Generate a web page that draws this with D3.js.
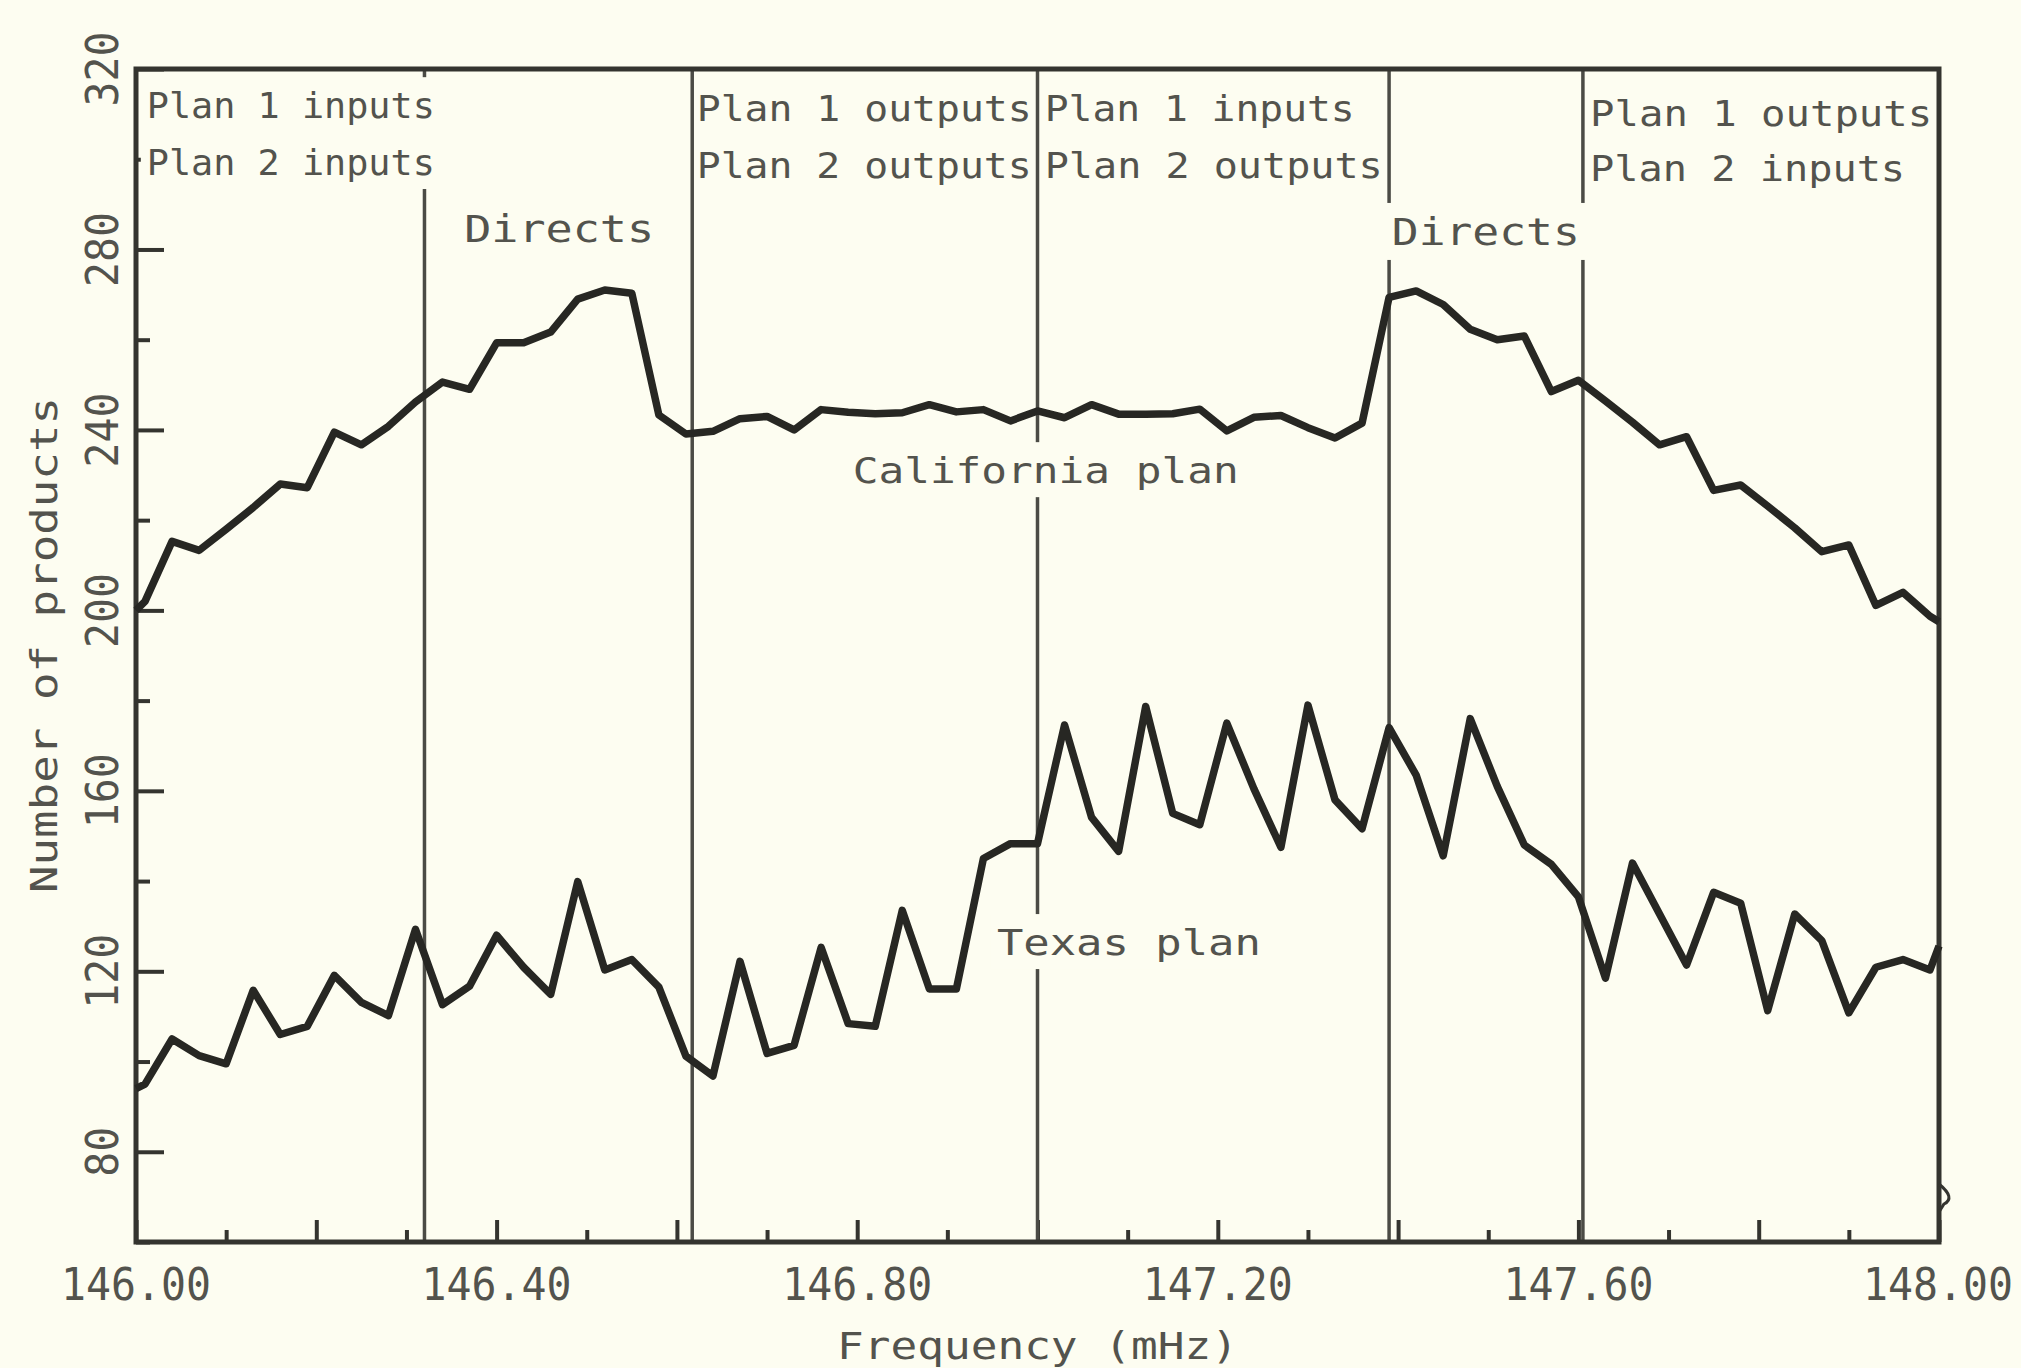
<!DOCTYPE html>
<html>
<head>
<meta charset="utf-8">
<script src="https://cdn.jsdelivr.net/npm/d3@7"></script>
<style>
  html, body { margin: 0; padding: 0; background: #fdfdf1; }
  svg { display: block; }
</style>
</head>
<body>
<svg id="chart" width="2021" height="1368"></svg>
<script>
// 2-m band channels (MHz), 30 kHz apart, with the band edges at both ends
const frequencies = [
  146.00,
  146.01, 146.04, 146.07, 146.10, 146.13, 146.16, 146.19, 146.22, 146.25, 146.28,
  146.31, 146.34, 146.37, 146.40, 146.43, 146.46, 146.49, 146.52, 146.55, 146.58,
  146.61, 146.64, 146.67, 146.70, 146.73, 146.76, 146.79, 146.82, 146.85, 146.88,
  146.91, 146.94, 146.97, 147.00, 147.03, 147.06, 147.09, 147.12, 147.15, 147.18,
  147.21, 147.24, 147.27, 147.30, 147.33, 147.36, 147.39, 147.42, 147.45, 147.48,
  147.51, 147.54, 147.57, 147.60, 147.63, 147.66, 147.69, 147.72, 147.75, 147.78,
  147.81, 147.84, 147.87, 147.90, 147.93, 147.96, 147.99,
  148.00
];

// Number of intermodulation products falling on each channel
const californiaPlan = [
  200,
  202, 215.3, 213.3, 218, 222.8, 228, 227.2, 239.5, 236.7, 240.8,
  246.2, 250.6, 249, 259.3, 259.3, 261.7, 269, 271, 270.3, 243.3,
  239.1, 239.7, 242.5, 243, 240, 244.5, 243.9, 243.6, 243.8, 245.6,
  244, 244.5, 242, 244.2, 242.7, 245.6, 243.5, 243.5, 243.6, 244.6,
  239.8, 242.8, 243.2, 240.5, 238.2, 241.5, 269.4, 270.8, 267.8, 262.3,
  260, 260.8, 248.5, 251, 246.4, 241.7, 236.7, 238.5, 226.6, 227.8,
  223.1, 218.3, 213, 214.5, 201.1, 204, 198.7,
  197.5
];

const texasPlan = [
  94,
  95, 105, 101.3, 99.5, 115.8, 106, 107.8, 119.1, 113.1, 110.2,
  129.3, 112.6, 116.7, 128, 120.9, 114.9, 139.9, 120.3, 122.6, 116.5,
  101.2, 96.8, 122.2, 101.8, 103.6, 125.3, 108.4, 107.8, 133.5, 116.1,
  116.1, 145, 148.3, 148.3, 174.6, 154.1, 146.6, 178.7, 155, 152.5,
  175, 160.5, 147.5, 179, 158, 151.6, 174, 163.5, 145.6, 176,
  161, 148, 143.7, 136.5, 118.5, 144, 132.7, 121.4, 137.5, 135.1,
  111.3, 132.7, 126.8, 110.8, 120.9, 122.6, 120.3,
  125.6
];

// Boundaries between the sub-band allocations (MHz)
const bandBoundaries = [146.32, 146.617, 147.00, 147.39, 147.605];

// Axis ticks
const xTickValues = [146.00, 146.40, 146.80, 147.20, 147.60, 148.00];
const xTickLabels = ["146.00", "146.40", "146.80", "147.20", "147.60", "148.00"];
const yTickValues = [80, 120, 160, 200, 240, 280, 320];
const yTickLabels = ["80", "120", "160", "200", "240", "280", "320"];

// Sub-band captions and curve names
const regionText = [
  ["Plan 1 inputs", "Plan 2 inputs"],
  ["Directs"],
  ["Plan 1 outputs", "Plan 2 outputs"],
  ["Plan 1 inputs", "Plan 2 outputs"],
  ["Directs"],
  ["Plan 1 outputs", "Plan 2 inputs"]
];
const seriesNames = ["California plan", "Texas plan"];
const xTitle = "Frequency (mHz)";
const yTitle = "Number of products";

// ---------------------------------------------------------------------------
const W = 2021, H = 1368;
const plot = { left: 136, right: 1939, top: 69, bottom: 1242 };
const BG = "#fdfdf1";
const INK = "#272723";
const FRAME = "#34342f";
const RULE = "#4b4b45";
const TEXT = "#53534d";
const MONO = "'DejaVu Sans Mono', 'Liberation Mono', monospace";

const svg = d3.select("#chart");
svg.append("rect").attr("width", W).attr("height", H).attr("fill", BG);

const x = d3.scaleLinear().domain([146, 148]).range([plot.left, plot.right]);
const y = d3.scaleLinear().domain([60, 320]).range([plot.bottom, plot.top]);

// --- inward ticks -----------------------------------------------------------
const ticks = svg.append("g");
const xMinor = d3.range(0, 21).map(i => 146 + i * 0.1);
const yMinor = d3.range(0, 14).map(i => 60 + i * 20);

function tickAxis(axis, values, size, tx, ty) {
  const g = ticks.append("g")
    .attr("transform", `translate(${tx},${ty})`)
    .call(axis.tickValues(values).tickSize(size).tickFormat(""));
  g.select(".domain").remove();
  g.selectAll("line").attr("stroke", FRAME).attr("stroke-width", 4);
  return g;
}
tickAxis(d3.axisBottom(x), xMinor.filter((d, i) => i % 2 === 1), -12, 0, plot.bottom);
tickAxis(d3.axisBottom(x), xMinor.filter((d, i) => i % 2 === 0), -22, 0, plot.bottom);
tickAxis(d3.axisLeft(y), yMinor.filter(d => d % 40 !== 0), -14, plot.left, 0);
tickAxis(d3.axisLeft(y), yMinor.filter(d => d % 40 === 0), -28, plot.left, 0);

// --- sub-band boundary rules -------------------------------------------------
svg.append("g").selectAll("line")
  .data(bandBoundaries)
  .join("line")
  .attr("x1", d => x(d)).attr("x2", d => x(d))
  .attr("y1", plot.top).attr("y2", plot.bottom)
  .attr("stroke", RULE).attr("stroke-width", 3.5);

// --- captions (some sit on a paper-coloured patch that interrupts the rules) --
const captionLayout = [
  { f: 146.012, v: 309.1, gap: 12.6, size: 36, len: [288, 288], mask: true },
  { f: 146.364, v: 281.6, gap: 0,    size: 37, len: [190],      mask: false },
  { f: 146.622, v: 308.4, gap: 12.6, size: 36, len: [335, 335], mask: false },
  { f: 147.008, v: 308.4, gap: 12.6, size: 36, len: [310, 338], mask: false },
  { f: 147.393, v: 281.0, gap: 0,    size: 37, len: [188],      mask: true },
  { f: 147.613, v: 307.3, gap: 12.2, size: 36, len: [342, 315], mask: false }
];
const nameLayout = [
  { f: 146.795, v: 228.2, size: 36, len: 386 },
  { f: 146.955, v: 123.6, size: 36, len: 264 }
];

const captions = svg.append("g");
function placeText(lines, f, v, gap, size, lens, mask) {
  const g = captions.append("g");
  const patch = g.append("rect").attr("fill", BG);
  const t = g.append("text")
    .attr("font-family", MONO).attr("font-size", size)
    .attr("fill", TEXT);
  lines.forEach((s, i) => {
    t.append("tspan")
      .attr("x", x(f))
      .attr("y", y(v - i * gap))
      .attr("textLength", lens[i])
      .attr("lengthAdjust", "spacingAndGlyphs")
      .text(s);
  });
  if (mask) {
    const b = t.node().getBBox();
    patch.attr("x", b.x - 6).attr("y", b.y - 8)
      .attr("width", b.width + 12).attr("height", b.height + 14);
  } else {
    patch.remove();
  }
}
regionText.forEach((lines, i) => {
  const L = captionLayout[i];
  placeText(lines, L.f, L.v, L.gap, L.size, L.len, L.mask);
});
seriesNames.forEach((name, i) => {
  const L = nameLayout[i];
  placeText([name], L.f, L.v, 0, L.size, [L.len], true);
});

// --- plot frame ---------------------------------------------------------------
svg.append("rect")
  .attr("x", plot.left).attr("y", plot.top)
  .attr("width", plot.right - plot.left).attr("height", plot.bottom - plot.top)
  .attr("fill", "none").attr("stroke", FRAME).attr("stroke-width", 5);

// small break mark on the right-hand border
svg.append("path")
  .attr("d", `M${plot.right},${plot.bottom - 58} Q${plot.right + 17},${plot.bottom - 44} ${plot.right + 5},${plot.bottom - 38} L${plot.right},${plot.bottom - 30}`)
  .attr("fill", "none").attr("stroke", FRAME).attr("stroke-width", 3);

// --- curves --------------------------------------------------------------------
const line = d3.line()
  .x((d, i) => x(frequencies[i]))
  .y(d => y(d));

[californiaPlan, texasPlan].forEach(series => {
  svg.append("path")
    .datum(series)
    .attr("d", line)
    .attr("fill", "none")
    .attr("stroke", INK)
    .attr("stroke-width", 7.5)
    .attr("stroke-linejoin", "round")
    .attr("stroke-linecap", "butt");
});

// --- tick labels -----------------------------------------------------------------
// the last label is kept inside the page edge
const xLabelWidth = 150;
svg.append("g").selectAll("text")
  .data(xTickValues)
  .join("text")
  .attr("x", d => Math.min(x(d), W - 8 - xLabelWidth / 2))
  .attr("y", 1300)
  .attr("text-anchor", "middle")
  .attr("font-family", MONO).attr("font-size", 44)
  .attr("fill", TEXT)
  .attr("textLength", xLabelWidth)
  .attr("lengthAdjust", "spacingAndGlyphs")
  .text((d, i) => xTickLabels[i]);

svg.append("g").selectAll("text")
  .data(yTickValues)
  .join("text")
  .attr("transform", d => `translate(118,${y(d)}) rotate(-90)`)
  .attr("text-anchor", "middle")
  .attr("font-family", MONO).attr("font-size", 45)
  .attr("fill", TEXT)
  .attr("textLength", (d, i) => yTickLabels[i].length * 25)
  .attr("lengthAdjust", "spacingAndGlyphs")
  .text((d, i) => yTickLabels[i]);

// --- axis titles -------------------------------------------------------------------
svg.append("text")
  .attr("x", (plot.left + plot.right) / 2)
  .attr("y", 1359)
  .attr("text-anchor", "middle")
  .attr("font-family", MONO).attr("font-size", 37)
  .attr("fill", TEXT)
  .attr("textLength", 401)
  .attr("lengthAdjust", "spacingAndGlyphs")
  .text(xTitle);

svg.append("text")
  .attr("transform", `translate(57,645) rotate(-90)`)
  .attr("text-anchor", "middle")
  .attr("font-family", MONO).attr("font-size", 38)
  .attr("fill", TEXT)
  .attr("textLength", 496)
  .attr("lengthAdjust", "spacingAndGlyphs")
  .text(yTitle);
</script>
</body>
</html>
